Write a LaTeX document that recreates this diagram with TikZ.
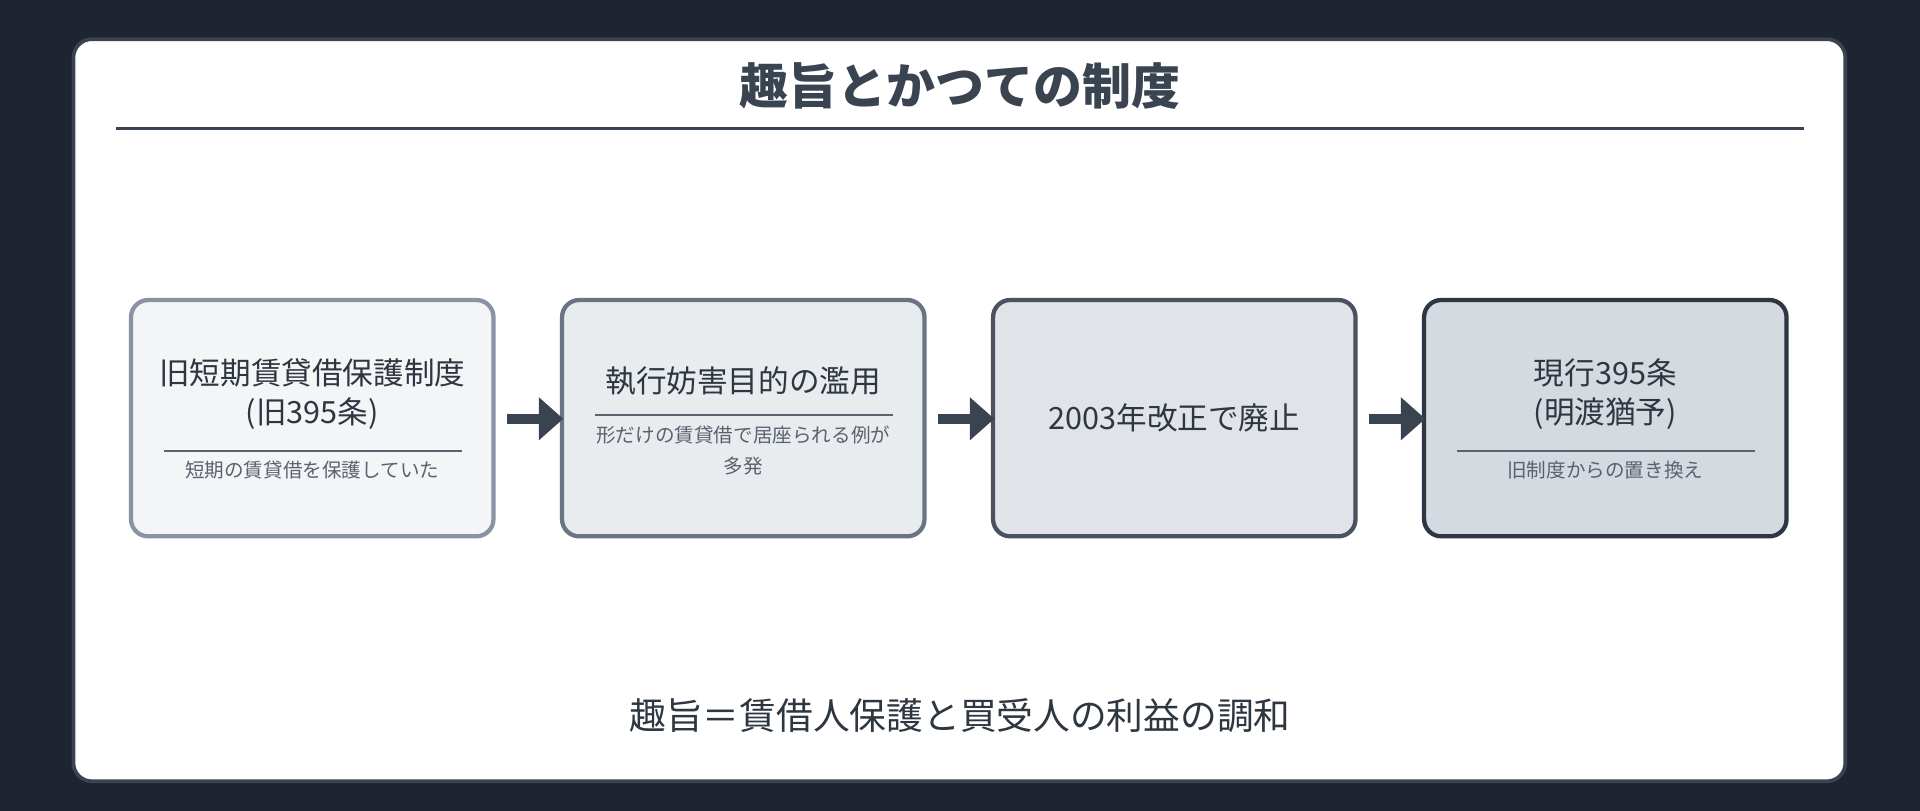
\documentclass[tikz,border=0pt]{standalone}
\usepackage{fontspec}
\setmainfont{Noto Sans CJK JP}
\usetikzlibrary{arrows.meta}
\definecolor{pagebg}{HTML}{1E2530}
\definecolor{ink}{HTML}{3A4350}
\definecolor{subink}{HTML}{5A6270}
\definecolor{edgeA}{HTML}{8A93A3}
\definecolor{edgeB}{HTML}{6B7483}
\definecolor{edgeC}{HTML}{4A5262}
\definecolor{edgeD}{HTML}{2E3543}
\definecolor{fillA}{HTML}{F4F5F7}
\definecolor{fillB}{HTML}{E9ECEF}
\definecolor{fillC}{HTML}{E0E3E8}
\definecolor{fillD}{HTML}{D5D9E0}
\tikzset{
  stage/.style={rounded corners=14, line width=3.5},
  flowarrow/.style={-{Triangle[length=20,width=34]}, line width=8, ink},
  big/.style={font=\fontsize{25}{32}\selectfont, text=ink!80!black, align=center},
  small/.style={font=\fontsize{16}{25}\selectfont, text=subink, align=center},
}
\begin{document}
\begin{tikzpicture}[x=1pt,y=-1pt]
\fill[pagebg] (0,0) rectangle (1568,662);
\useasboundingbox (0,0) rectangle (1568,662);
\draw[fill=white, draw=ink, line width=3, rounded corners=15] (60,32) rectangle (1507,638);

\node[font=\fontsize{40}{48}\selectfont\bfseries, text=ink] (title) at (784,70) {趣旨とかつての制度};
\draw[ink, line width=2] (95,105) -- (1473,105);

% stages
\draw[stage, draw=edgeA, fill=fillA] (107,245) rectangle (403,438);
\draw[stage, draw=edgeB, fill=fillB] (459,245) rectangle (755,438);
\draw[stage, draw=edgeC, fill=fillC] (811,245) rectangle (1107,438);
\draw[stage, draw=edgeD, fill=fillD] (1163,245) rectangle (1459,438);

\node[big] (s1) at (255,322) {旧短期賃貸借保護制度\\(旧395条)};
\draw[subink, line width=1.5] (134,368) -- (377,368);
\node[small] (s1b) at (255,384) {短期の賃貸借を保護していた};

\node[big] (s2) at (607,311) {執行妨害目的の濫用};
\draw[subink, line width=1.5] (486,339) -- (729,339);
\node[small] (s2b) at (607,368) {形だけの賃貸借で居座られる例が\\多発};

\node[big] (s3) at (959,341) {2003年改正で廃止};

\node[big] (s4) at (1311,322) {現行395条\\(明渡猶予)};
\draw[subink, line width=1.5] (1190,368) -- (1433,368);
\node[small] (s4b) at (1311,384) {旧制度からの置き換え};

\coordinate (a1) at (414,342); \coordinate (b1) at (460,342);
\coordinate (a2) at (766,342); \coordinate (b2) at (812,342);
\coordinate (a3) at (1118,342); \coordinate (b3) at (1164,342);
\foreach \i in {1,2,3} \draw[flowarrow] (a\i) -- (b\i);

\node[font=\fontsize{30}{36}\selectfont, text=ink!80!black] (gist) at (784,584) {趣旨＝賃借人保護と買受人の利益の調和};
\end{tikzpicture}
\end{document}
